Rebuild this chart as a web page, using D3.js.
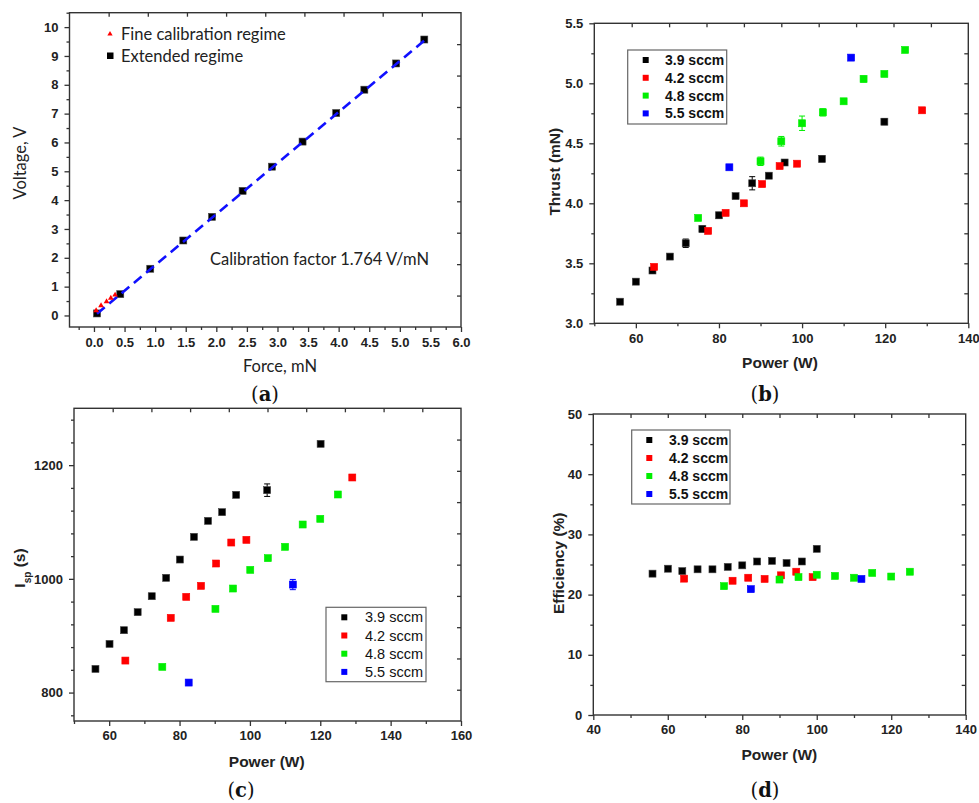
<!DOCTYPE html>
<html><head><meta charset="utf-8">
<script src="https://cdn.jsdelivr.net/npm/d3@7"></script>
<style>
html,body{margin:0;padding:0;background:#fff;}
svg{display:block;}
</style></head>
<body>
<svg id="chart" width="979" height="803"></svg>
<script>
// ---------- DATA ----------
// Panel (a): calibration
const fineForce   = [0.06, 0.14, 0.23, 0.30, 0.37];
const fineVoltage = [0.12, 0.29, 0.43, 0.55, 0.66];
const extForce    = [0.05, 0.43, 0.92, 1.46, 1.93, 2.43, 2.91, 3.41, 3.96, 4.42, 4.94, 5.40];
const extVoltage  = [0.07, 0.74, 1.62, 2.60, 3.42, 4.32, 5.16, 6.03, 7.02, 7.83, 8.74, 9.57];
const fitForce    = [0.05, 5.42];
const fitVoltage  = [0.06, 9.57];
const aLegend     = ["Fine calibration regime", "Extended regime"];
const aNote       = "Calibration factor 1.764 V/mN";
const aXTicks     = [0,0.5,1,1.5,2,2.5,3,3.5,4,4.5,5,5.5,6];
const aYTicks     = [0,1,2,3,4,5,6,7,8,9,10];

// Series names
const flowLabels = ["3.9 sccm", "4.2 sccm", "4.8 sccm", "5.5 sccm"];

// Panel (b): thrust vs power
const bPower39 = [56.2, 60, 64, 68.2, 72, 76, 80, 84, 88, 92, 95.8, 104.8, 119.8];
const bThrust39 = [3.18, 3.347, 3.44, 3.556, 3.667, 3.786, 3.90, 4.06, 4.167, 4.23, 4.34, 4.37, 4.68];
const bErr39 = [0, 0.02, 0.02, 0.015, 0.035, 0.025, 0.025, 0, 0.055, 0.02, 0, 0.025, 0.025];
const bPower42 = [64.4, 77.4, 81.6, 86, 90.4, 94.6, 98.8, 128.9];
const bThrust42 = [3.47, 3.77, 3.92, 4.0, 4.16, 4.31, 4.33, 4.775];
const bErr42 = [0.02, 0, 0, 0.015, 0.02, 0, 0, 0];
const bPower48 = [75, 90, 95, 100, 105, 110, 114.8, 119.8, 124.8];
const bThrust48 = [3.878, 4.35, 4.517, 4.667, 4.758, 4.85, 5.036, 5.078, 5.278];
const bErr48 = [0, 0.035, 0.04, 0.06, 0.03, 0, 0.025, 0, 0];
const bPower55 = [82.5, 111.8];
const bThrust55 = [4.30, 5.214];
const bErr55 = [0, 0];
const bXTicks = [60, 80, 100, 120, 140];
const bYTicks = [3.0, 3.5, 4.0, 4.5, 5.0, 5.5];

// Panel (c): specific impulse vs power
const cPower39 = [56.1, 60.1, 64.2, 68.1, 72.1, 76.2, 80.1, 84.1, 88.1, 92.1, 96.1, 104.9, 120.1];
const cIsp39 = [841.6, 885.6, 909.7, 941.4, 969.5, 1001.8, 1034, 1073.9, 1102, 1117.3, 1147.8, 1156, 1237.5];
const cErr39 = [0, 0, 0, 0, 0, 0, 0, 0, 0, 0, 0, 11, 0];
const cPower42 = [64.6, 77.5, 81.9, 86.1, 90.4, 94.7, 99.0, 129.1];
const cIsp42 = [856.3, 931.4, 968.3, 987.7, 1027, 1063.9, 1068.6, 1178.3];
const cErr42 = [0, 0, 0, 0, 0, 0, 0, 0];
const cPower48 = [75.1, 90.2, 95.2, 100.1, 105.1, 110, 115, 120, 125];
const cIsp48 = [845.2, 947.2, 983, 1015.8, 1036.4, 1056.3, 1095.6, 1105.6, 1148.4];
const cErr48 = [0, 0, 0, 0, 0, 0, 0, 0, 0];
const cPower55 = [82.6, 112.2];
const cIsp55 = [817.6, 990];
const cErr55 = [0, 9];
const cXTicks = [60, 80, 100, 120, 140, 160];
const cYTicks = [800, 1000, 1200];

// Panel (d): efficiency vs power
const dPower39 = [55.9, 60.05, 63.9, 68.0, 72.0, 76.1, 80.0, 84.0, 88.0, 91.9, 96.0, 100];
const dEff39 = [23.48, 24.3, 23.9, 24.2, 24.2, 24.6, 24.86, 25.5, 25.6, 25.25, 25.5, 27.6];
const dPower42 = [64.4, 77.4, 81.6, 86.0, 90.4, 94.5, 98.9];
const dEff42 = [22.65, 22.3, 22.8, 22.6, 23.2, 23.8, 22.9];
const dPower48 = [75.1, 90.0, 95.1, 100, 104.9, 110, 114.9, 120, 125];
const dEff48 = [21.4, 22.5, 22.9, 23.3, 23.1, 22.8, 23.6, 23.0, 23.8];
const dPower55 = [82.3, 112];
const dEff55 = [20.9, 22.6];
const dXTicks = [40, 60, 80, 100, 120, 140];
const dYTicks = [0, 10, 20, 30, 40, 50];

// ---------- STYLE ----------
const seriesColors = ["#000000", "#ff0000", "#00ee00", "#0000ff"];
const tickFont = "'Liberation Sans', Arial, sans-serif";
const svg = d3.select("#chart");

function rangeStep(a, b, s) { const out = []; for (let v = a; v <= b + 1e-9; v += s) out.push(+v.toFixed(6)); return out; }

function frame(cfg) {
  const x = d3.scaleLinear().domain(cfg.xDomain).range([cfg.left, cfg.right]);
  const y = d3.scaleLinear().domain(cfg.yDomain).range([cfg.bottom, cfg.top]);
  const g = svg.append("g");
  const styleAxis = sel => {
    sel.select(".domain").remove();
    sel.selectAll("line").attr("stroke", "#333").attr("stroke-width", 1.3);
    sel.selectAll("text").attr("font-family", tickFont).attr("font-weight", "bold")
       .attr("font-size", cfg.tickSize || 13).attr("fill", "#222");
  };
  g.append("g").attr("transform", `translate(0,${cfg.bottom})`)
    .call(d3.axisBottom(x).tickValues(cfg.xMajor).tickSize(5).tickPadding(cfg.xPad || 5).tickFormat(cfg.xFmt))
    .call(styleAxis);
  g.append("g").attr("transform", `translate(0,${cfg.bottom})`)
    .call(d3.axisBottom(x).tickValues(cfg.xMinor).tickSize(3).tickFormat(""))
    .call(styleAxis);
  g.append("g").attr("transform", `translate(${cfg.left},0)`)
    .call(d3.axisLeft(y).tickValues(cfg.yMajor).tickSize(5).tickPadding(cfg.yPad || 5).tickFormat(cfg.yFmt))
    .call(styleAxis);
  g.append("g").attr("transform", `translate(${cfg.left},0)`)
    .call(d3.axisLeft(y).tickValues(cfg.yMinor).tickSize(3).tickFormat(""))
    .call(styleAxis);
  const tx = d3.scaleLinear().domain([0, 10]).range([cfg.left, cfg.right]);
  const ty = d3.scaleLinear().domain([0, 10]).range([cfg.bottom, cfg.top]);
  g.append("g").attr("transform", `translate(0,${cfg.top})`)
    .call(d3.axisTop(tx).tickValues(d3.range(1, 10)).tickSize(-4).tickFormat(""))
    .call(styleAxis);
  g.append("g").attr("transform", `translate(${cfg.right},0)`)
    .call(d3.axisRight(ty).tickValues(d3.range(1, 10)).tickSize(-4).tickFormat(""))
    .call(styleAxis);
  g.append("rect").attr("x", cfg.left).attr("y", cfg.top)
    .attr("width", cfg.right - cfg.left).attr("height", cfg.bottom - cfg.top)
    .attr("fill", "none").attr("stroke", "#333").attr("stroke-width", 1.4);
  return { x, y, g };
}

function squares(p, xs, ys, errs, color, size) {
  const data = xs.map((v, i) => ({ x: v, y: ys[i], e: errs ? errs[i] : 0 }));
  const eg = p.g.append("g");
  data.filter(d => d.e > 0).forEach(d => {
    const xx = p.x(d.x), y1 = p.y(d.y + d.e), y2 = p.y(d.y - d.e);
    eg.append("line").attr("x1", xx).attr("x2", xx).attr("y1", y1).attr("y2", y2).attr("stroke", color).attr("stroke-width", 1);
    [y1, y2].forEach(yy => eg.append("line").attr("x1", xx - 3).attr("x2", xx + 3).attr("y1", yy).attr("y2", yy).attr("stroke", color).attr("stroke-width", 1));
  });
  p.g.append("g").selectAll("rect").data(data).join("rect")
    .attr("x", d => p.x(d.x) - size / 2).attr("y", d => p.y(d.y) - size / 2)
    .attr("width", size).attr("height", size).attr("fill", color)
    .attr("stroke", color === "#000000" ? "#444" : color).attr("stroke-width", 0.6);
}

function legendBox(box, items, opts) {
  const g = svg.append("g");
  g.append("rect").attr("x", box.x).attr("y", box.y).attr("width", box.w).attr("height", box.h)
    .attr("fill", "#fff").attr("stroke", "#666").attr("stroke-width", 1.2);
  items.forEach((t, i) => {
    const cy = box.y + opts.first + i * opts.step;
    g.append("rect").attr("x", opts.mx - 3).attr("y", cy - 3).attr("width", 6).attr("height", 6).attr("fill", seriesColors[i]);
    g.append("text").attr("x", opts.tx).attr("y", cy + 5).text(t)
      .attr("font-family", tickFont).attr("font-weight", opts.bold ? "bold" : "normal")
      .attr("font-size", opts.fs).attr("fill", "#111");
  });
}

function axisTitle(x, y, text, rotate, opts) {
  const t = svg.append("text").attr("text-anchor", "middle")
    .attr("transform", `translate(${x},${y})` + (rotate ? " rotate(-90)" : ""))
    .attr("font-family", opts.family).attr("font-size", opts.size)
    .attr("font-weight", opts.weight || "normal").attr("fill", "#222")
    .attr("dy", "0.35em");
  if (Array.isArray(text)) {
    text.forEach(part => {
      const sp = t.append("tspan").text(part.t);
      if (part.sub) sp.attr("font-size", opts.size * 0.65).attr("baseline-shift", "sub");
    });
  } else t.text(text);
  return t;
}

function panelLetter(x, y, letter) {
  const t = svg.append("text").attr("x", x).attr("y", y).attr("text-anchor", "middle")
    .attr("font-family", "'DejaVu Serif', 'Liberation Serif', serif").attr("font-size", 19.5).attr("fill", "#111");
  t.append("tspan").text("(");
  t.append("tspan").text(letter).attr("font-weight", "bold");
  t.append("tspan").text(")");
}

// ---------- PANEL A ----------
const pa = frame({
  left: 69.5, right: 461, top: 12.7, bottom: 327,
  xDomain: [-0.4, 6.0], yDomain: [-0.4, 10.5],
  xMajor: aXTicks, xMinor: rangeStep(-0.25, 5.75, 0.5), xFmt: d3.format(".1f"),
  yMajor: aYTicks, yMinor: rangeStep(0.5, 10.5, 1), yFmt: d3.format("d"),
  xPad: 6, yPad: 6
});
squares(pa, extForce, extVoltage, null, "#000000", 7);
pa.g.append("path").datum(fitForce.map((v, i) => [v, fitVoltage[i]]))
  .attr("d", d3.line().x(d => pa.x(d[0])).y(d => pa.y(d[1])))
  .attr("stroke", "#1010ff").attr("stroke-width", 2.6).attr("stroke-dasharray", "10,6").attr("fill", "none");
pa.g.append("g").selectAll("path").data(fineForce.map((v, i) => [v, fineVoltage[i]])).join("path")
  .attr("d", d3.symbol(d3.symbolTriangle, 14))
  .attr("transform", d => `translate(${pa.x(d[0]) - 1.5},${pa.y(d[1]) - 1.5})`).attr("fill", "#ff0000");
// legend (no box)
const aLeg = svg.append("g");
aLeg.append("path").attr("d", d3.symbol(d3.symbolTriangle, 12)).attr("transform", "translate(110,34)").attr("fill", "#ff0000");
aLeg.append("rect").attr("x", 107).attr("y", 52.5).attr("width", 6.5).attr("height", 6.5).attr("fill", "#000");
aLeg.selectAll("text").data(aLegend).join("text")
  .attr("x", 121).attr("y", (d, i) => 39.5 + i * 22.5).text(d => d)
  .attr("font-family", "Lato, 'Open Sans', sans-serif").attr("font-size", 16.5).attr("fill", "#222");
svg.append("text").attr("x", 210).attr("y", 265).text(aNote)
  .attr("font-family", "Lato, 'Open Sans', sans-serif").attr("font-size", 16.5).attr("fill", "#222");
axisTitle(20.5, 163, "Voltage, V", true, { family: "Lato, 'Open Sans', sans-serif", size: 16.5 });
axisTitle(280, 366, "Force, mN", false, { family: "Lato, 'Open Sans', sans-serif", size: 16.5 });
panelLetter(265, 401, "a");

// ---------- PANEL B ----------
const pb = frame({
  left: 594.3, right: 968.3, top: 23.3, bottom: 323.3,
  xDomain: [50, 140], yDomain: [3.0, 5.5],
  xMajor: bXTicks, xMinor: rangeStep(50, 130, 20), xFmt: d3.format("d"),
  yMajor: bYTicks, yMinor: rangeStep(3.25, 5.25, 0.5), yFmt: d3.format(".1f"),
  xPad: 5, yPad: 6
});
squares(pb, bPower39, bThrust39, bErr39, seriesColors[0], 7);
squares(pb, bPower42, bThrust42, bErr42, seriesColors[1], 7);
squares(pb, bPower48, bThrust48, bErr48, seriesColors[2], 7);
squares(pb, bPower55, bThrust55, bErr55, seriesColors[3], 7);
legendBox({ x: 627.7, y: 50, w: 99, h: 74 }, flowLabels, { first: 10, step: 17.8, mx: 645.7, tx: 665, fs: 14, bold: true });
axisTitle(780, 363, "Power (W)", false, { family: tickFont, size: 15.5, weight: "bold" });
axisTitle(555, 171.7, "Thrust (mN)", true, { family: tickFont, size: 15.5, weight: "bold" });
panelLetter(765, 401, "b");

// ---------- PANEL C ----------
const pc = frame({
  left: 74, right: 461, top: 408.3, bottom: 721,
  xDomain: [50, 160], yDomain: [750, 1300],
  xMajor: cXTicks, xMinor: rangeStep(50, 150, 20), xFmt: d3.format("d"),
  yMajor: cYTicks, yMinor: [760, 840, 880, 920, 960, 1040, 1080, 1120, 1160, 1240, 1280], yFmt: d3.format("d"),
  xPad: 5, yPad: 6
});
squares(pc, cPower39, cIsp39, cErr39, seriesColors[0], 7);
squares(pc, cPower42, cIsp42, cErr42, seriesColors[1], 7);
squares(pc, cPower48, cIsp48, cErr48, seriesColors[2], 7);
squares(pc, cPower55, cIsp55, cErr55, seriesColors[3], 7);
legendBox({ x: 326, y: 607.3, w: 100, h: 74.4 }, flowLabels, { first: 10, step: 18.2, mx: 344.3, tx: 365, fs: 14.5, bold: false });
axisTitle(266.7, 761.7, "Power (W)", false, { family: tickFont, size: 15.5, weight: "bold" });
axisTitle(20, 568, [{ t: "I" }, { t: "sp", sub: true }, { t: " (s)" }], true, { family: tickFont, size: 15.5, weight: "bold" });
panelLetter(241, 797, "c");

// ---------- PANEL D ----------
const pd = frame({
  left: 593.3, right: 965.7, top: 414, bottom: 715,
  xDomain: [40, 140], yDomain: [0, 50],
  xMajor: dXTicks, xMinor: rangeStep(50, 130, 20), xFmt: d3.format("d"),
  yMajor: dYTicks, yMinor: rangeStep(5, 45, 10), yFmt: d3.format("d"),
  xPad: 5, yPad: 6
});
squares(pd, dPower39, dEff39, null, seriesColors[0], 7);
squares(pd, dPower42, dEff42, null, seriesColors[1], 7);
squares(pd, dPower48, dEff48, null, seriesColors[2], 7);
squares(pd, dPower55, dEff55, null, seriesColors[3], 7);
legendBox({ x: 631.7, y: 430, w: 98.3, h: 74 }, flowLabels, { first: 10, step: 18, mx: 649.3, tx: 669, fs: 14, bold: true });
axisTitle(779.3, 755, "Power (W)", false, { family: tickFont, size: 15.5, weight: "bold" });
axisTitle(558.3, 563.3, "Efficiency (%)", true, { family: tickFont, size: 15.5, weight: "bold" });
panelLetter(765, 797, "d");
</script>
</body></html>
